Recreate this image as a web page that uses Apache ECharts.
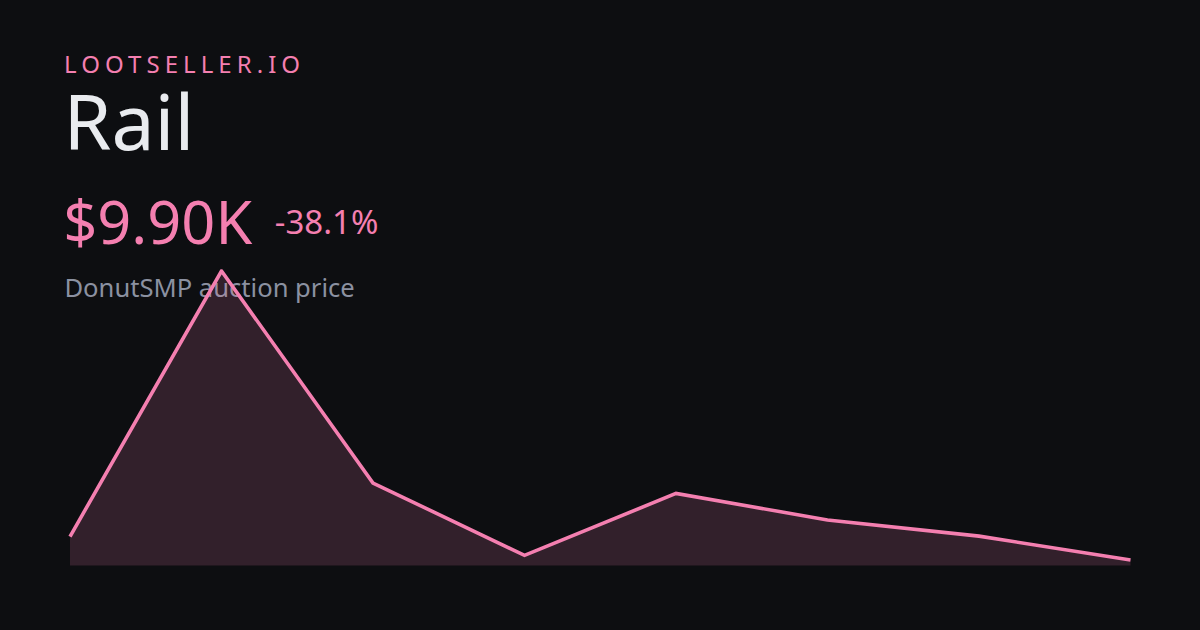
<!DOCTYPE html>
<html>
<head>
<meta charset="utf-8">
<script src="https://cdn.jsdelivr.net/npm/echarts@6/dist/echarts.min.js"></script>
<style>
html,body{margin:0;padding:0;background:#0d0e11;}
#c{width:1200px;height:630px;}
</style>
</head>
<body>
<div id="c"></div>
<script>
// ---- data ----
const categories = ['1', '2', '3', '4', '5', '6', '7', '8'];
const prices = [16.0, 85.0, 29.9, 11.1, 27.2, 20.3, 16.1, 9.9]; // thousands of $
const brand = 'LOOTSELLER.IO';
const itemName = 'Rail';
const priceLabel = '$9.90K';
const changeLabel = '-38.1%';
const subtitle = 'DonutSMP auction price';

const yMin = 8.47;
const yMax = 85.0;

const FONT = '"Noto Sans", "Open Sans", sans-serif';
const PINK = '#f47fb0';

const chart = echarts.init(document.getElementById('c'), null, {renderer: 'svg', width: 1200, height: 630});
chart.setOption({
  animation: false,
  backgroundColor: '#0d0e11',
  grid: {left: 70, right: 69.5, top: 271, bottom: 64.5},
  xAxis: {
    type: 'category', data: categories, boundaryGap: false,
    show: false
  },
  yAxis: {
    type: 'value', min: yMin, max: yMax, show: false
  },
  series: [{
    type: 'line',
    data: prices,
    symbol: 'none',
    smooth: false,
    lineStyle: {color: PINK, width: 3.6, cap: 'butt', join: 'miter'},
    areaStyle: {color: PINK, opacity: 0.165, origin: 'start'}
  }],
  graphic: [
    {type: 'text', x: 64, y: 63.0, style: {text: brand, font: '400 24px ' + FONT, fill: PINK, textVerticalAlign: 'middle'}},
    {type: 'text', x: 63.5, y: 120.8, style: {text: itemName, font: '400 77px ' + FONT, fill: '#e9ebef', textVerticalAlign: 'middle'}},
    {type: 'text', x: 63.3, y: 220.2, style: {text: priceLabel, font: '400 59.5px ' + FONT, fill: PINK, textVerticalAlign: 'middle'}},
    {type: 'text', x: 274.8, y: 221.2, style: {text: changeLabel, font: '400 33px ' + FONT, fill: PINK, textVerticalAlign: 'middle'}},
    {type: 'text', x: 64.4, y: 287.4, style: {text: subtitle, font: '400 25.6px ' + FONT, fill: '#8b91a1', textVerticalAlign: 'middle'}}
  ]
});

function spaceBrand(){
  const texts = document.querySelectorAll('#c text');
  texts.forEach(t => {
    if (t.textContent === brand) {
      t.setAttribute('letter-spacing', '5.05');
      t.style.letterSpacing = '5.05px';
    }
  });
}
spaceBrand();
chart.on('finished', spaceBrand);
</script>
</body>
</html>
